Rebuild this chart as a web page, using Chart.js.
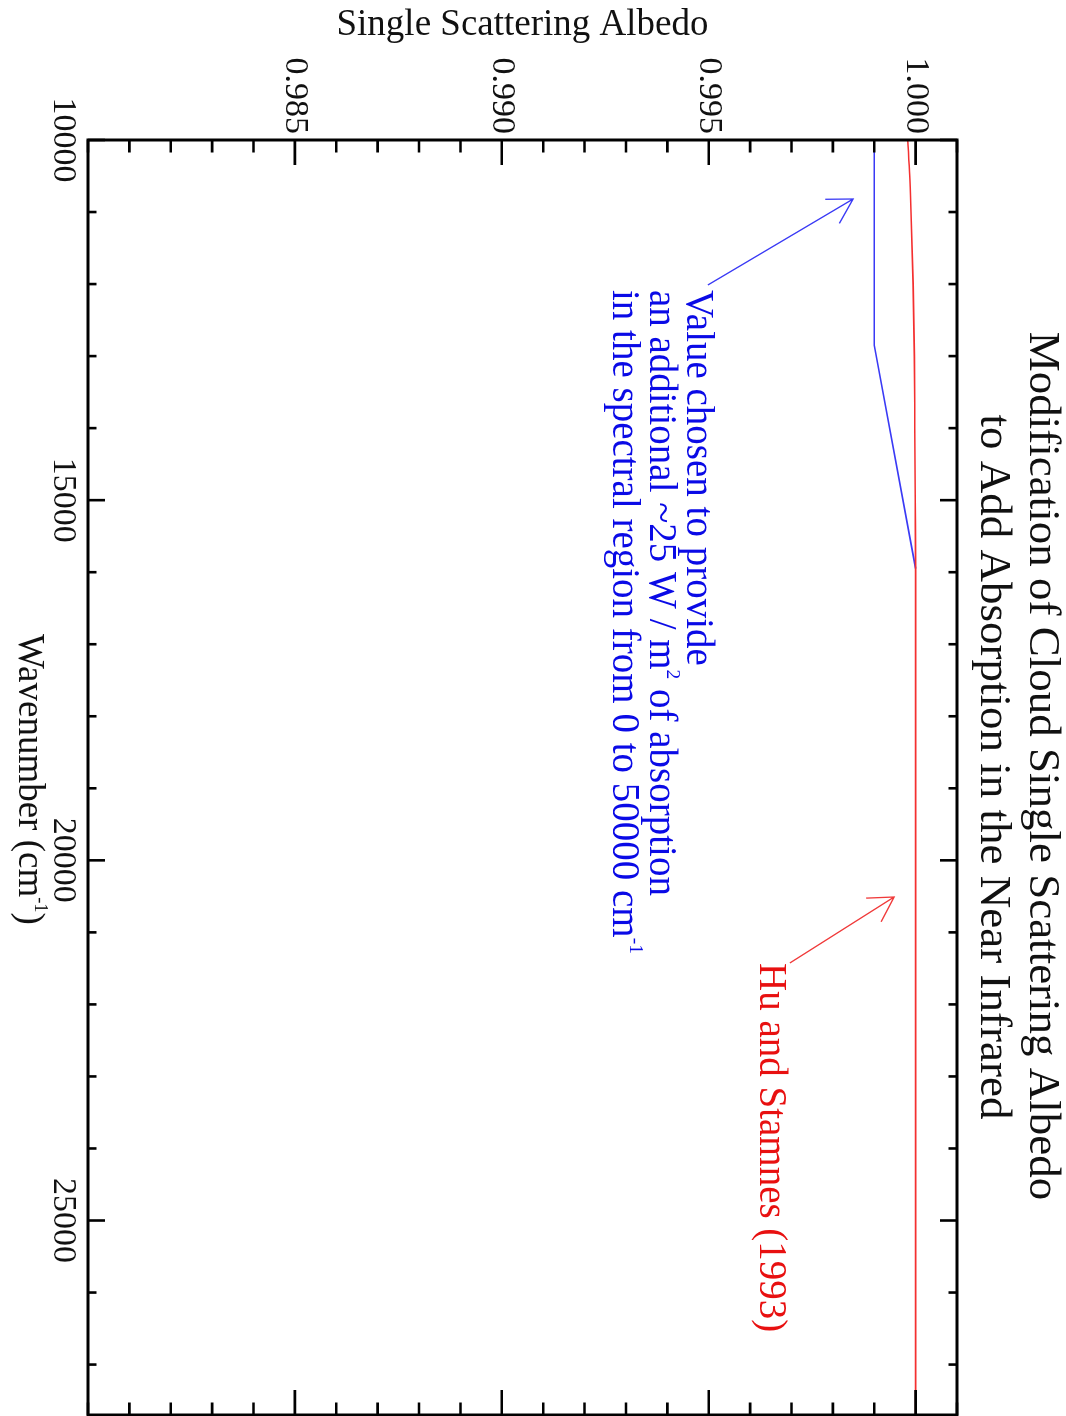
<!DOCTYPE html>
<html>
<head>
<meta charset="utf-8">
<script src="https://cdn.jsdelivr.net/npm/chart.js@4/dist/chart.umd.min.js"></script>
<style>
  html, body { margin: 0; padding: 0; background: #fff; overflow: hidden; width: 1066px; height: 1416px; }
  /* the plot is laid out landscape and turned a quarter turn clockwise */
  #wrap { position: absolute; left: 0; top: 0; width: 1416px; height: 1066px;
          transform-origin: 0 0; transform: translate(1066px, 0) rotate(90deg); background: #fff; }
  canvas { display: block; }
</style>
</head>
<body>
<div id="wrap"><canvas id="c" width="1416" height="1066"></canvas></div>
<script>
// ---- axes ----
const wavenumberMin = 10000;
const wavenumberMax = 27700;
const albedoMin = 0.980;
const albedoMax = 1.001;
const wavenumberTicks = [10000, 11000, 12000, 13000, 14000, 15000, 16000, 17000, 18000,
                         19000, 20000, 21000, 22000, 23000, 24000, 25000, 26000, 27000];
const wavenumberLabels = [10000, 15000, 20000, 25000];
const albedoTicks = [0.980, 0.981, 0.982, 0.983, 0.984, 0.985, 0.986, 0.987, 0.988, 0.989, 0.990,
                     0.991, 0.992, 0.993, 0.994, 0.995, 0.996, 0.997, 0.998, 0.999, 1.000, 1.001];
const albedoLabels = [0.985, 0.990, 0.995, 1.000];

// ---- series ----
const huStamnesWavenumber = [10000, 10500, 11000, 12000, 13000, 14000, 15000, 16000, 20000, 27700];
const huStamnesAlbedo     = [0.99981, 0.99986, 0.99989, 0.99994, 0.99997, 0.99998, 0.99999, 1.00000, 1.00000, 1.00000];
const modifiedWavenumber  = [10000, 12850, 15950];
const modifiedAlbedo      = [0.99900, 0.99900, 1.00000];

// ---- annotations (anchored in wavenumber / albedo units) ----
const titleLines = ['Modification of Cloud Single Scattering Albedo',
                    'to Add Absorption in the Near Infrared'];
const modifiedNote = [
  [['Value chosen to provide']],
  [['an additional ~25 W / m'], ['2', 'sup'], [' of absorption']],
  [['in the spectral region from 0 to 50000 cm'], ['-1', 'sup']]
];
const modifiedNoteAt    = [12082, 0.99448];
const modifiedArrowFrom = [12013, 0.99498];
const modifiedArrowTo   = [10819, 0.99849];
const huStamnesNote     = [[['Hu and Stamnes (1993)']]];
const huStamnesNoteAt    = [21425, 0.99624];
const huStamnesArrowFrom = [21425, 0.99696];
const huStamnesArrowTo   = [20509, 0.99948];
const xTitle = [['Wavenumber (cm'], ['-1', 'sup'], [')']];
const yTitle = 'Single Scattering Albedo';

const SERIF = '"Liberation Serif", "Times New Roman", serif';
const BLUE = '#0a0ae6';
const RED = '#e81010';

function toPoints(xs, ys) { return xs.map((v, i) => ({ x: v, y: ys[i] })); }

// draws a line of text made of plain and superscript runs
function drawRich(ctx, runs, x, y, size, color, align) {
  const widths = runs.map(r => {
    ctx.font = (r[1] === 'sup' ? size * 0.5 : size) + 'px ' + SERIF;
    return ctx.measureText(r[0]).width;
  });
  const total = widths.reduce((a, b) => a + b, 0);
  let cx = align === 'center' ? x - total / 2 : x;
  ctx.fillStyle = color;
  ctx.textBaseline = 'alphabetic';
  ctx.textAlign = 'left';
  runs.forEach((r, i) => {
    const sup = r[1] === 'sup';
    ctx.font = (sup ? size * 0.5 : size) + 'px ' + SERIF;
    ctx.fillText(r[0], cx, sup ? y - size * 0.42 : y);
    cx += widths[i];
  });
}

function drawArrow(ctx, x0, y0, x1, y1, color) {
  const ang = Math.atan2(y1 - y0, x1 - x0);
  const head = 28, spread = Math.PI / 6;
  ctx.strokeStyle = color;
  ctx.lineWidth = 1.3;
  ctx.beginPath();
  ctx.moveTo(x0, y0); ctx.lineTo(x1, y1);
  ctx.moveTo(x1 - head * Math.cos(ang - spread), y1 - head * Math.sin(ang - spread));
  ctx.lineTo(x1, y1);
  ctx.lineTo(x1 - head * Math.cos(ang + spread), y1 - head * Math.sin(ang + spread));
  ctx.stroke();
}

const frame = {
  id: 'frame',
  afterDatasetsDraw(chart) {
    const { ctx, chartArea: a, scales: { x, y } } = chart;
    ctx.save();
    ctx.strokeStyle = '#000';
    ctx.lineCap = 'butt';
    ctx.lineWidth = 2.6;
    ctx.beginPath();
    wavenumberTicks.forEach(v => {
      const px = x.getPixelForValue(v);
      const len = wavenumberLabels.includes(v) ? 17 : 8.5;
      ctx.moveTo(px, a.bottom); ctx.lineTo(px, a.bottom - len);
      ctx.moveTo(px, a.top);    ctx.lineTo(px, a.top + len);
    });
    albedoTicks.forEach(v => {
      const py = y.getPixelForValue(v);
      const major = albedoLabels.some(l => Math.abs(l - v) < 1e-7);
      const len = major ? 25 : 12.5;
      ctx.moveTo(a.left, py);  ctx.lineTo(a.left + len, py);
      ctx.moveTo(a.right, py); ctx.lineTo(a.right - len, py);
    });
    ctx.stroke();
    ctx.lineWidth = 3;
    ctx.strokeRect(a.left, a.top, a.right - a.left, a.bottom - a.top);
    ctx.restore();
  },
  afterDraw(chart) {
    const { ctx, chartArea: a, scales: { x, y } } = chart;
    const P = (p) => [x.getPixelForValue(p[0]), y.getPixelForValue(p[1])];
    ctx.save();
    // title
    ctx.fillStyle = '#111';
    ctx.font = '45px ' + SERIF;
    ctx.textAlign = 'center';
    ctx.textBaseline = 'alphabetic';
    ctx.fillText(titleLines[0], 766, 36);
    ctx.fillText(titleLines[1], 767, 85);
    // wavenumber axis title
    drawRich(ctx, xTitle, (a.left + a.right) / 2 + 2, 1047, 37, '#111', 'center');
    // blue note and arrow
    const [bx, by] = P(modifiedNoteAt);
    modifiedNote.forEach((ln, i) => drawRich(ctx, ln, bx, by + i * 37, 39, BLUE, 'left'));
    const bf = P(modifiedArrowFrom), bt = P(modifiedArrowTo);
    drawArrow(ctx, bf[0], bf[1], bt[0], bt[1], '#3a3af5');
    // red note and arrow
    const [rx, ry] = P(huStamnesNoteAt);
    huStamnesNote.forEach((ln, i) => drawRich(ctx, ln, rx, ry + i * 37, 39, RED, 'left'));
    const rf = P(huStamnesArrowFrom), rt = P(huStamnesArrowTo);
    drawArrow(ctx, rf[0], rf[1], rt[0], rt[1], '#f03a3a');
    ctx.restore();
  }
};

new Chart(document.getElementById('c'), {
  type: 'line',
  data: {
    datasets: [
      { label: 'Hu and Stamnes (1993)', data: toPoints(huStamnesWavenumber, huStamnesAlbedo),
        borderColor: '#f43030', borderWidth: 1.6, pointRadius: 0, cubicInterpolationMode: 'monotone', fill: false },
      { label: 'Modified', data: toPoints(modifiedWavenumber, modifiedAlbedo),
        borderColor: '#3a3af5', borderWidth: 1.6, pointRadius: 0, tension: 0, fill: false }
    ]
  },
  options: {
    responsive: false,
    animation: false,
    devicePixelRatio: 1,
    layout: { padding: { top: 109, right: 1, left: 0, bottom: 0 } },
    plugins: { legend: { display: false }, title: { display: false }, tooltip: { enabled: false } },
    scales: {
      x: {
        type: 'linear', position: 'bottom', min: wavenumberMin, max: wavenumberMax,
        grid: { display: false }, border: { display: false },
        afterBuildTicks: s => { s.ticks = wavenumberTicks.map(v => ({ value: v })); },
        afterFit: s => { s.height = 88; },
        ticks: {
          autoSkip: false, maxRotation: 0, padding: -3, color: '#111',
          font: { family: SERIF, size: 34 },
          callback: v => (wavenumberLabels.includes(v) ? String(v) : '')
        }
      },
      y: {
        type: 'linear', position: 'left', min: albedoMin, max: albedoMax,
        grid: { display: false }, border: { display: false },
        afterBuildTicks: s => { s.ticks = albedoTicks.map(v => ({ value: v })); },
        afterFit: s => { s.width = 140; },
        title: { display: true, text: yTitle, color: '#111', font: { family: SERIF, size: 37 }, padding: { top: 3, bottom: 0 } },
        ticks: {
          autoSkip: false, padding: -2, color: '#111',
          font: { family: SERIF, size: 34 },
          callback: v => {
            const l = albedoLabels.find(t => Math.abs(t - v) < 1e-7);
            return l === undefined ? '' : l.toFixed(3);
          }
        }
      }
    }
  },
  plugins: [frame]
});
</script>
</body>
</html>
